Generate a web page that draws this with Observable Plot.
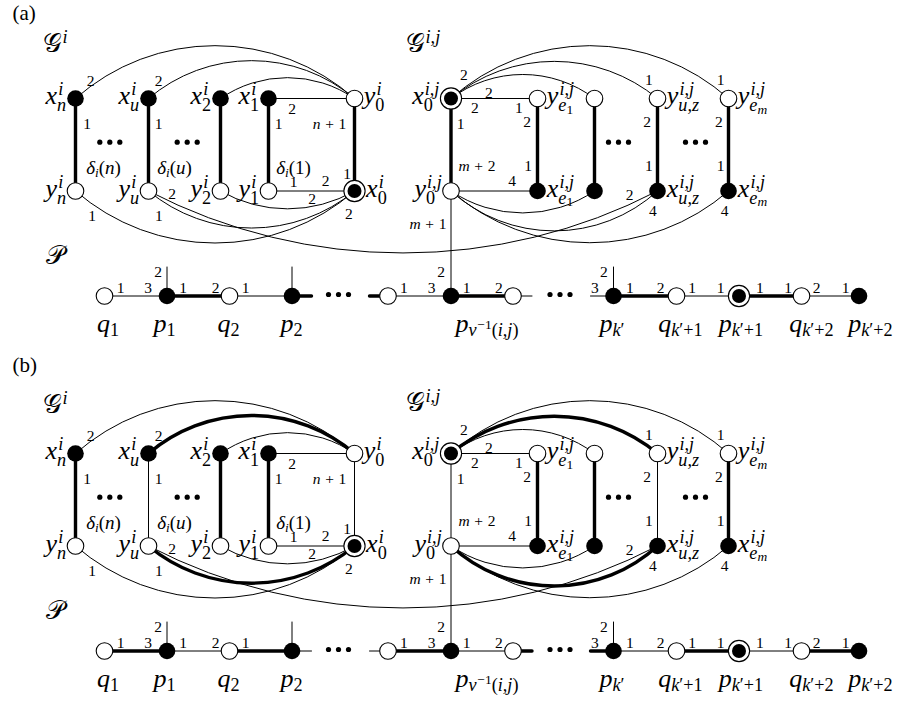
<!DOCTYPE html>
<html><head><meta charset="utf-8">
<script src="https://cdn.jsdelivr.net/npm/d3@7"></script>
<script src="https://cdn.jsdelivr.net/npm/@observablehq/plot@0.6"></script>
<style>body{margin:0;background:#fff}</style>
</head><body><div id="chart"></div>
<script>
const W = 902, H = 705, DY = 355;

// ---- nodes of panel (a); panel (b) repeats them DY lower ----
const nodes = [
  {id:"xn",x:75,y:98,kind:"filled"},{id:"xu",x:148,y:98,kind:"filled"},
  {id:"x2",x:220,y:98,kind:"filled"},{id:"x1",x:268,y:98,kind:"filled"},
  {id:"y0",x:354,y:98,kind:"open"},
  {id:"yn",x:75,y:190.5,kind:"open"},{id:"yu",x:148,y:190.5,kind:"open"},
  {id:"y2",x:220,y:190.5,kind:"open"},{id:"y1",x:268,y:190.5,kind:"open"},
  {id:"x0",x:354,y:190.5,kind:"double"},
  {id:"X0",x:450.5,y:98,kind:"double"},{id:"Ye1",x:537,y:98,kind:"open"},
  {id:"Yq",x:594,y:98,kind:"open"},{id:"Yuz",x:657,y:98,kind:"open"},
  {id:"Yem",x:728,y:98,kind:"open"},
  {id:"Y0",x:450.5,y:190.5,kind:"open"},{id:"Xe1",x:537,y:190.5,kind:"filled"},
  {id:"Xq",x:594,y:190.5,kind:"filled"},{id:"Xuz",x:657,y:190.5,kind:"filled"},
  {id:"Xem",x:728,y:190.5,kind:"filled"},
  {id:"q1",x:104,y:295.5,kind:"open"},{id:"p1",x:166.5,y:295.5,kind:"filled"},
  {id:"q2",x:229,y:295.5,kind:"open"},{id:"p2",x:291.5,y:295.5,kind:"filled"},
  {id:"c1",x:311,y:295.5,kind:"none"},{id:"c2",x:369,y:295.5,kind:"none"},
  {id:"qv",x:387.5,y:295.5,kind:"open"},{id:"pv",x:450.5,y:295.5,kind:"filled"},
  {id:"qv2",x:512.5,y:295.5,kind:"open"},{id:"c3",x:531.5,y:295.5,kind:"none"},
  {id:"c4",x:590,y:295.5,kind:"none"},{id:"pk",x:613,y:295.5,kind:"filled"},
  {id:"qk1",x:676,y:295.5,kind:"open"},{id:"pk1",x:738.5,y:295.5,kind:"double"},
  {id:"qk2",x:801,y:295.5,kind:"open"},{id:"pk2",x:858.5,y:295.5,kind:"filled"},
  {id:"s1",x:166.5,y:266.5,kind:"none"},{id:"s2",x:291.5,y:266.5,kind:"none"},
  {id:"s3",x:613,y:266.5,kind:"none"}
];

// ---- edges: [from, to, bend (deg), selected in (a), selected in (b)] ----
const edges = [
  ["xn","yn",0,1,1],["xu","yu",0,1,0],["x2","y2",0,1,1],["x1","y1",0,1,1],["y0","x0",0,1,0],
  ["x1","y0",0,0,0],["y1","x0",0,0,0],
  ["xn","y0",41.6,0,0],["xu","y0",40.5,0,1],["x2","y0",34.8,0,0],
  ["yn","x0",-41,0,0],["yu","x0",-39.7,0,1],["y2","x0",-30,0,0],
  ["yu","Xuz",-27.4,0,0],
  ["X0","Y0",0,1,0],["Ye1","Xe1",0,1,1],["Yq","Xq",0,1,1],["Yuz","Xuz",0,1,0],["Yem","Xem",0,1,1],
  ["X0","Ye1",0,0,0],["Y0","Xe1",0,0,0],
  ["X0","Yq",37.2,0,0],["X0","Yuz",39.7,0,1],["X0","Yem",41.8,0,0],
  ["Y0","Xq",-34.2,0,0],["Y0","Xuz",-42.4,0,1],["Y0","Xem",-41,0,0],
  ["Y0","pv",0,0,0],
  ["q1","p1",0,0,1],["p1","q2",0,1,0],["q2","p2",0,0,1],["p2","c1",0,1,0],
  ["c2","qv",0,1,0],["qv","pv",0,0,1],["pv","qv2",0,1,0],["qv2","c3",0,0,1],
  ["c4","pk",0,0,1],["pk","qk1",0,1,0],["qk1","pk1",0,0,1],["pk1","qk2",0,1,0],["qk2","pk2",0,0,1],
  ["s1","p1",0,0,0],["s2","p2",0,0,0],["s3","pk",0,0,0]
];

// ---- ellipsis centres ----
const ellipses = [{x:109.3,y:141.7},{x:186.7,y:141.7},{x:618,y:141.7},{x:695,y:141.7},{x:338,y:294},{x:559.5,y:294}];

// ---- node labels: [node, tex, side] ----
const nodeTex = [
  ["xn","x_n^i","l"],["xu","x_u^i","l"],["x2","x_2^i","l"],["x1","x_1^i","l"],["y0","y_0^i","r"],
  ["yn","y_n^i","l"],["yu","y_u^i","l"],["y2","y_2^i","l"],["y1","y_1^i","l"],["x0","x_0^i","r"],
  ["X0","x_0^{i,j}","l"],["Ye1","y_{e_1}^{i,j}","r"],["Yuz","y_{u,z}^{i,j}","r"],["Yem","y_{e_m}^{i,j}","r"],
  ["Y0","y_0^{i,j}","l"],["Xe1","x_{e_1}^{i,j}","r"],["Xuz","x_{u,z}^{i,j}","r"],["Xem","x_{e_m}^{i,j}","r"]
];
// ---- path vertex labels: [tex, centre x] ----
const pathTex = [["q_1",107.5],["p_1",164],["q_2",228],["p_2",291],["p_{ν^{−1}(i,j)}",486.5],
  ["p_{k′}",611.5],["q_{k′+1}",680],["p_{k′+1}",740.5],["q_{k′+2}",811],["p_{k′+2}",870]];
// ---- degree notes δ: [tex, centre x, centre y] ----
const deltaTex = [["δ_i(n)",103,168],["δ_i(u)",174,168],["δ_i(1)",293,168]];
// ---- port numbers: [tex, centre x, centre y] ----
const portTex = [
  ["2",90,80],["1",86.7,123],["2",158,80],["1",158,123],["2",291.7,108],["1",278,123],["n+1",329,123],["1",346.7,173],
  ["1",293,181],["2",325,180],["2",311.7,198.3],["2",171.7,193.3],["1",91.7,215],["1",158.3,215],["2",348.3,213.3],
  ["2",463.3,74],["2",488.3,92.7],["2",474.3,107.3],["1",518.3,107.3],["2",526.7,121.7],["1",460,123.3],
  ["m+2",476.5,165.7],["1",527.7,165],["4",511.7,180],
  ["1",648.3,79],["1",720,79],["2",646.7,121.7],["2",718.3,121.7],["1",648.3,165],["1",720,165],
  ["2",629,194],["4",652.3,210],["4",724,210],["m+1",427.5,223.3],
  ["1",120,287.3],["3",147.7,287.3],["2",157.7,271],["1",182.7,287.3],["2",215,287.3],["1",245,287.3],
  ["1",403.3,287.3],["3",431,287.3],["2",440.7,271],
  ["1",466,287.3],["2",498.3,287.3],["2",603.3,271],["3",594.3,287.3],["1",629.3,287.3],["2",660,287.3],
  ["1",691.7,287.3],["1",720,287.3],["1",759.3,287.3],["1",787.7,287.3],["2",816,287.3],["1",845,287.3]
];
// ---- graph names: [tex, left x, baseline (a), baseline (b)] ----
const graphNames = [["𝒢^i",42,51,412],["𝒢^{i,j}",405,51,410],["𝒫",45,263,618]];
const panelTitles = [["(a)",12,19],["(b)",12,371]];

// ================= typesetting helper =================
const SERIF = "Liberation Serif, serif";
const CALF = "DejaVu Serif, DejaVu Sans, serif";
const cv = document.createElement("canvas").getContext("2d");
function kindOf(ch){
  const cp = ch.codePointAt(0);
  if (cp >= 0x1D49C && cp <= 0x1D4CF) return "cal";
  if (/[A-Za-z\u03B1-\u03C9,]/.test(ch)) return "it";
  return "rm";
}
function charW(ch, k, sz){
  cv.font = (k==="it"?"italic ":"") + sz + "px " + (k==="cal"?CALF:SERIF);
  return cv.measureText(ch).width;
}
function typeset(tex, size, force){
  const pieces = [];
  function grab(t, p){
    if (t[p] === "{"){ let d=1, j=p+1; while (j<t.length){ if(t[j]==="{")d++; else if(t[j]==="}"){d--; if(!d)break;} j++; } return [t.slice(p+1,j).join(""), j+1]; }
    return [t[p], p+1];
  }
  function run(str, sz, x0, base, level){
    const t = Array.from(str); let j = 0, x = x0;
    while (j < t.length){
      let atom; [atom, j] = grab(t, j);
      let w;
      if (Array.from(atom).length === 1){
        const k = force || kindOf(atom);
        const pad = (level===0 && (atom==="+"||atom==="−")) ? 0.3*sz : 0;
        const cw = charW(atom,k,sz);
        const last = pieces[pieces.length-1];
        if (!pad && last && last.k===k && last.size===sz && last.dy===base && Math.abs(last.end - x) < 0.01){
          last.t += atom; last.end = x + cw;
        } else pieces.push({t:atom, k, size:sz, dx:x+pad, dy:base, end:x+pad+cw+(pad?1e9:0)});
        w = cw + 2*pad;
      } else w = run(atom, sz, x, base, level);
      let sub = null, sup = null;
      while (t[j]==="_" || t[j]==="^"){ const op=t[j]; let g; [g,j]=grab(t,j+1); if(op==="_")sub=g; else sup=g; }
      if (sub!==null || sup!==null){
        const ss = level===0 ? sz*0.7 : sz*0.74;
        const both = sub!==null && sup!==null;
        let ws=0, wp=0;
        if (sup!==null) wp = run(sup, ss, x+w+0.04*sz, base-0.34*sz, level+1) + 0.04*sz;
        if (sub!==null) ws = run(sub, ss, x+w, base+(both?0.27:0.16)*sz, level+1);
        w += Math.max(ws, wp);
      }
      x += w;
    }
    return x - x0;
  }
  const width = run(tex, size, 0, 0, 0);
  return {pieces, width};
}
const allPieces = [];
function place(tex, size, ax, baseline, align, force){
  const {pieces, width} = typeset(tex, size, force);
  const x0 = align==="end" ? ax - width : align==="middle" ? ax - width/2 : ax;
  for (const p of pieces) allPieces.push({t:p.t, k:p.k, size:p.size, x:x0+p.dx, y:baseline+p.dy});
}

// ================= build =================
const byId = new Map(nodes.map(d => [d.id, d]));
const panels = [{dy:0, col:3, g:2}, {dy:DY, col:4, g:3}];
const NODE_R = 8.3, DOUBLE_R = 10.6;

const edgeRows = panels.flatMap(p => edges.map(e => {
  const a = byId.get(e[0]), b = byId.get(e[1]);
  return {x1:a.x, y1:a.y+p.dy, x2:b.x, y2:b.y+p.dy, bend:e[2], sel:e[p.col]===1};
}));
const nodeRows = panels.flatMap(p => nodes.filter(n => n.kind!=="none").map(n => ({...n, y:n.y+p.dy})));
const dotRows = panels.flatMap(p => ellipses.map(d => ({x:d.x, y:d.y+p.dy})));

for (const p of panels){
  for (const [id, tex, side] of nodeTex){
    const n = byId.get(id);
    const r = (n.kind==="double" ? DOUBLE_R : NODE_R) + 1;
    place(tex, 26, side==="l" ? n.x - r : n.x + r, n.y + p.dy + 5.5, side==="l" ? "end" : "start");
  }
  for (const [tex, x] of pathTex) place(tex, 26, x, 331 + p.dy, "middle");
  for (const [tex, x, y] of portTex) place(tex, 15.5, x, y + 0.34*15.5 + p.dy, "middle");
  for (const [tex, x, y] of deltaTex) place(tex, 19, x, y + 0.3*19 + p.dy, "middle");
  for (const g of graphNames) place(g[0], 26, g[1], g[p.g], "start");
}
for (const [tex, x, y] of panelTitles) place(tex, 21, x, y, "start", "rm");

const textOpts = {x:"x", y:"y", text:"t", fontSize:"size", textAnchor:"start", lineAnchor:"bottom", fill:"black"};

const marks = [
  ...edgeRows.map(r => Plot.arrow([r], {x1:"x1", y1:"y1", x2:"x2", y2:"y2", bend:r.bend, headLength:0,
      stroke:"black", strokeWidth: r.sel ? 3.4 : 1})),
  Plot.dot(nodeRows.filter(d=>d.kind==="open"), {x:"x", y:"y", r:NODE_R, fill:"white", stroke:"black", strokeWidth:1.1}),
  Plot.dot(nodeRows.filter(d=>d.kind==="filled"), {x:"x", y:"y", r:NODE_R, fill:"black"}),
  Plot.dot(nodeRows.filter(d=>d.kind==="double"), {x:"x", y:"y", r:DOUBLE_R, fill:"white", stroke:"black", strokeWidth:1.1}),
  Plot.dot(nodeRows.filter(d=>d.kind==="double"), {x:"x", y:"y", r:7, fill:"black"}),
  ...[-10, 0, 10].map(dx => Plot.dot(dotRows, {x:"x", y:"y", r:2.6, fill:"black", dx})),
  Plot.text(allPieces.filter(d=>d.k==="it"), {...textOpts, fontFamily:SERIF, fontStyle:"italic"}),
  Plot.text(allPieces.filter(d=>d.k==="rm"), {...textOpts, fontFamily:SERIF}),
  Plot.text(allPieces.filter(d=>d.k==="cal"), {...textOpts, fontFamily:CALF})
];

const chart = Plot.plot({
  width: W, height: H, margin: 0,
  x: {domain:[0, W], range:[0, W], axis:null},
  y: {domain:[0, H], range:[0, H], axis:null},
  style: {background:"white"},
  marks
});
document.getElementById("chart").appendChild(chart);
</script>
</body></html>
